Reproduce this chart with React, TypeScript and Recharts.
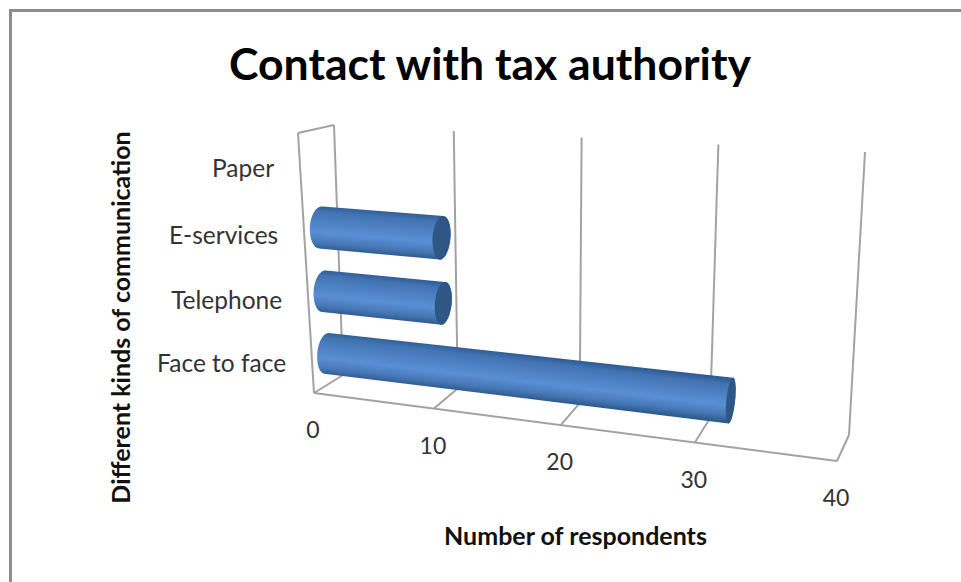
import React from 'react';
import { BarChart, Bar, XAxis, YAxis, CartesianGrid } from 'recharts';

const categories = ['Paper', 'E-services', 'Telephone', 'Face to face'];
const respondents = [0, 10, 10, 32];
const valueTicks = [0, 10, 20, 30, 40];

const data = categories.map((name, i) => ({ name, respondents: respondents[i] }));

type Pt = [number, number];

// flat plot area that the 3D box is projected from
const PLOT = { left: 300, top: 100, width: 500, height: 300 };

// corners of the box: top-left, top-right, bottom-right, bottom-left
const BACK_WALL: Pt[] = [[334, 125], [865, 152], [849, 435], [343, 375]];
const FRONT_FACE: Pt[] = [[298, 133], [850, 172], [837, 461], [314, 393]];

// cylinder radius along the depth axis, as a share of the box depth
const DEPTH_RADIUS = 0.33;
const GRID_COLOR = '#a2a2a2';
const FONT = 'Lato, Carlito, sans-serif';

// unit square to quad homography
const quadMap = (q: Pt[]) => {
    const [[x0, y0], [x1, y1], [x2, y2], [x3, y3]] = q;
    const dx1 = x1 - x2, dx2 = x3 - x2, sx = x0 - x1 + x2 - x3;
    const dy1 = y1 - y2, dy2 = y3 - y2, sy = y0 - y1 + y2 - y3;
    const det = dx1 * dy2 - dx2 * dy1;
    const g = (sx * dy2 - dx2 * sy) / det;
    const h = (dx1 * sy - sx * dy1) / det;
    const a = x1 - x0 + g * x1, b = x3 - x0 + h * x3;
    const d = y1 - y0 + g * y1, e = y3 - y0 + h * y3;
    return (u: number, v: number): Pt => {
        const w = g * u + h * v + 1;
        return [(a * u + b * v + x0) / w, (d * u + e * v + y0) / w];
    };
};

const backAt = quadMap(BACK_WALL);
const frontAt = quadMap(FRONT_FACE);

// depth 0 is the front of the box, depth 1 the back wall
const project = (u: number, v: number, depth: number): Pt => {
    const f = frontAt(u, v);
    const b = backAt(u, v);
    return [f[0] + (b[0] - f[0]) * depth, f[1] + (b[1] - f[1]) * depth];
};

const toU = (x: number) => (x - PLOT.left) / PLOT.width;
const toV = (y: number) => (y - PLOT.top) / PLOT.height;

const toPoints = (pts: Pt[]) => pts.map((p) => `${p[0].toFixed(1)},${p[1].toFixed(1)}`).join(' ');

const convexHull = (input: Pt[]): Pt[] => {
    const pts = [...input].sort((a, b) => a[0] - b[0] || a[1] - b[1]);
    const cross = (o: Pt, a: Pt, b: Pt) => (a[0] - o[0]) * (b[1] - o[1]) - (a[1] - o[1]) * (b[0] - o[0]);
    const half = (list: Pt[]) => {
        const out: Pt[] = [];
        for (const p of list) {
            while (out.length > 1 && cross(out[out.length - 2], out[out.length - 1], p) <= 0) out.pop();
            out.push(p);
        }
        out.pop();
        return out;
    };
    return [...half(pts), ...half([...pts].reverse())];
};

const GridLine = (props: any) => {
    const u = toU(props.x1);
    const line = (a: Pt, b: Pt, key: string) => (
        <line key={key} x1={a[0]} y1={a[1]} x2={b[0]} y2={b[1]} stroke={GRID_COLOR} strokeWidth={2} />
    );
    return (
        <g key={props.key}>
            {line(project(u, 0, 1), project(u, 1, 1), 'wall')}
            {line(project(u, 1, 1), project(u, 1, 0), 'floor')}
            {u < 0.01 && line(project(0, 0, 1), project(0, 0, 0), 'side-top')}
            {u < 0.01 && line(project(0, 0, 0), project(0, 1, 0), 'side-front')}
            {u < 0.01 && line(project(0, 1, 0), project(1, 1, 0), 'floor-front')}
        </g>
    );
};

const CylinderBar = (props: any) => {
    const { x, y, width, height, index } = props;
    if (!width || width <= 0) return null;
    const u0 = toU(x);
    const u1 = toU(x + width);
    const vMid = toV(y + height / 2);
    const vRadius = height / 2 / PLOT.height;
    const disc = (u: number): Pt[] => {
        const pts: Pt[] = [];
        for (let i = 0; i < 48; i++) {
            const t = (i / 48) * Math.PI * 2;
            pts.push(project(u, vMid + vRadius * Math.cos(t), 0.5 + DEPTH_RADIUS * Math.sin(t)));
        }
        return pts;
    };
    const startDisc = disc(u0);
    const endDisc = disc(u1);
    const id = `cylinder-${index}`;
    // shading runs across the cylinder, square to its axis
    const a = project(u0, vMid, 0.5);
    const b = project(u1, vMid, 0.5);
    const len = Math.hypot(b[0] - a[0], b[1] - a[1]);
    const nx = -(b[1] - a[1]) / len;
    const ny = (b[0] - a[0]) / len;
    const mid = project((u0 + u1) / 2, vMid, 0.5);
    const reach = project((u0 + u1) / 2, vMid + vRadius, 0.5)[1] - mid[1] + 1;
    return (
        <g>
            <defs>
                <linearGradient
                    id={id}
                    gradientUnits="userSpaceOnUse"
                    x1={mid[0] - nx * reach}
                    y1={mid[1] - ny * reach}
                    x2={mid[0] + nx * reach}
                    y2={mid[1] + ny * reach}
                >
                    <stop offset="0" stopColor="#2f5c95" />
                    <stop offset="0.14" stopColor="#4274b3" />
                    <stop offset="0.62" stopColor="#5a8fd6" />
                    <stop offset="0.86" stopColor="#4576b2" />
                    <stop offset="1" stopColor="#2f5b8e" />
                </linearGradient>
            </defs>
            <polygon points={toPoints(convexHull([...startDisc, ...endDisc]))} fill={`url(#${id})`} />
            <polygon points={toPoints(endDisc)} fill="#2f5785" />
        </g>
    );
};

const ValueTick = ({ x, payload }: any) => {
    const [px, py] = project(toU(x), 1, 0);
    return (
        <text x={px - 1} y={py + 36} textAnchor="middle" dominantBaseline="central" fontFamily={FONT} fontSize={23} fill="#333333">
            {payload.value}
        </text>
    );
};

const CategoryTick = ({ y, payload }: any) => {
    const [px, py] = project(0, toV(y), 0);
    return (
        <text x={px - 26} y={py + 1} textAnchor="end" dominantBaseline="central" fontFamily={FONT} fontSize={24.5} fill="#333333">
            {payload.value}
        </text>
    );
};

export default function App() {
    return (
        <div style={{ position: 'absolute', left: 0, top: 0, width: 961, height: 582, background: '#ffffff', overflow: 'hidden' }}>
            {/* chart area outline, only its top and left edges are in view */}
            <div style={{ position: 'absolute', left: 9, top: 9, right: 0, bottom: 0, borderTop: '3px solid #8c8c8c', borderLeft: '3px solid #8c8c8c' }} />
            <div style={{ position: 'absolute', left: 0, top: 0 }}>
                <BarChart
                    width={961}
                    height={582}
                    data={data}
                    layout="vertical"
                    barCategoryGap="18%"
                    margin={{ top: 100, left: 240, right: 161, bottom: 132 }}
                >
                    <CartesianGrid horizontal={false} vertical={GridLine} />
                    <XAxis
                        type="number"
                        domain={[0, 40]}
                        ticks={valueTicks}
                        interval={0}
                        height={50}
                        axisLine={false}
                        tickLine={false}
                        tick={<ValueTick />}
                    />
                    <YAxis
                        type="category"
                        dataKey="name"
                        width={60}
                        interval={0}
                        axisLine={false}
                        tickLine={false}
                        tick={<CategoryTick />}
                    />
                    <Bar dataKey="respondents" isAnimationActive={false} shape={<CylinderBar />} />
                    <text x={490} y={62} textAnchor="middle" dominantBaseline="central" fontFamily={FONT} fontSize={44.5} fontWeight={700} fill="#000000">
                        Contact with tax authority
                    </text>
                    <text x={575.5} y={535} textAnchor="middle" dominantBaseline="central" fontFamily={FONT} fontSize={25} fontWeight={700} fill="#111111">
                        Number of respondents
                    </text>
                    <text
                        x={120}
                        y={317.5}
                        transform="rotate(-90 120 317.5)"
                        textAnchor="middle"
                        dominantBaseline="central"
                        fontFamily={FONT}
                        fontSize={25}
                        fontWeight={700}
                        fill="#111111"
                    >
                        Different kinds of communication
                    </text>
                </BarChart>
            </div>
        </div>
    );
}
